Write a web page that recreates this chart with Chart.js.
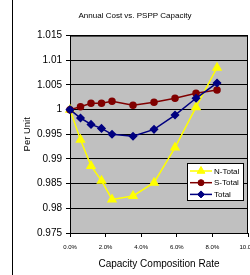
<!DOCTYPE html>
<html>
<head>
<meta charset="utf-8">
<script src="https://cdn.jsdelivr.net/npm/chart.js@4.4.0/dist/chart.umd.min.js"></script>
<style>
  html, body { margin: 0; padding: 0; background: #fff; overflow: hidden; }
  #wrap { position: relative; width: 270px; height: 275px; }
  #frame { position: absolute; left: 12px; top: 0; width: 1px; height: 275px; background: #000; }
</style>
</head>
<body>
<div id="wrap">
  <canvas id="cost-chart" width="270" height="275"></canvas>
  <div id="frame"></div>
</div>
<script>
// values
const rates = [0, 0.59, 1.18, 1.77, 2.36, 3.54, 4.72, 5.9, 7.08, 8.26];
const nTotal = [1.0, 0.9939, 0.9886, 0.9856, 0.9818, 0.9825, 0.9852, 0.9923, 1.0005, 1.0085];
const sTotal = [1.0, 1.0006, 1.0013, 1.0013, 1.0017, 1.0009, 1.0015, 1.0023, 1.0033, 1.004];
const total = [1.0, 0.9983, 0.997, 0.9962, 0.995, 0.9946, 0.996, 0.9989, 1.0023, 1.0054];
const seriesNames = ["N-Total", "S-Total", "Total"];

const yTicks = [0.975, 0.98, 0.985, 0.99, 0.995, 1, 1.005, 1.01, 1.015];
const yTickLabels = ["0.975", "0.98", "0.985", "0.99", "0.995", "1", "1.005", "1.01", "1.015"];
const xTicks = [0, 2, 4, 6, 8, 10];
const xTickLabels = ["0.0%", "2.0%", "4.0%", "6.0%", "8.0%", "10.0%"];

const FONT = '"Liberation Sans", Arial, sans-serif';

function toPoints(values) {
  return rates.map((rate, i) => ({ x: rate, y: values[i] }));
}

const plotBackground = {
  id: "plotBackground",
  beforeDraw(chart) {
    const { ctx, chartArea } = chart;
    ctx.save();
    ctx.fillStyle = "#c0c0c0";
    ctx.fillRect(chartArea.left, chartArea.top, chartArea.width, chartArea.height);
    ctx.restore();
  },
  beforeDatasetsDraw(chart) {
    const { ctx, chartArea } = chart;
    ctx.save();
    ctx.strokeStyle = "#000";
    ctx.lineWidth = 1;
    ctx.strokeRect(chartArea.left + 0.5, chartArea.top + 0.5, chartArea.width - 1, chartArea.height);
    ctx.restore();
  },
};

const boxLegend = {
  id: "boxLegend",
  afterDatasetsDraw(chart) {
    const { ctx } = chart;
    const left = 187, top = 163, width = 56, height = 37;
    ctx.save();
    ctx.fillStyle = "#fff";
    ctx.fillRect(left, top, width, height);
    ctx.strokeStyle = "#000";
    ctx.lineWidth = 1;
    ctx.strokeRect(left + 0.5, top + 0.5, width, height);
    ctx.font = "8px " + FONT;
    ctx.textBaseline = "middle";
    chart.data.datasets.forEach((ds, i) => {
      const y = top + 8 + i * 11.7;
      ctx.strokeStyle = ds.borderColor;
      ctx.lineWidth = 1.5;
      ctx.beginPath();
      ctx.moveTo(left + 3, y);
      ctx.lineTo(left + 25, y);
      ctx.stroke();
      ctx.fillStyle = ds.pointBackgroundColor;
      ctx.lineWidth = 1;
      Chart.helpers.drawPoint(ctx, { pointStyle: ds.pointStyle, radius: ds.pointRadius, rotation: 0, borderWidth: 1 }, left + 14, y);
      ctx.fillStyle = "#000";
      ctx.fillText(ds.label, left + 27, y + 0.5);
    });
    ctx.restore();
  },
};

new Chart(document.getElementById("cost-chart"), {
  type: "line",
  data: {
    datasets: [
      {
        label: seriesNames[0],
        data: toPoints(nTotal),
        borderColor: "#ffff00",
        backgroundColor: "#ffff00",
        pointBackgroundColor: "#ffff00",
        pointBorderColor: "#ffff00",
        pointStyle: "triangle",
        pointRadius: 4.5,
        borderWidth: 1.5,
        order: 2,
      },
      {
        label: seriesNames[1],
        data: toPoints(sTotal),
        borderColor: "#800000",
        backgroundColor: "#800000",
        pointBackgroundColor: "#800000",
        pointBorderColor: "#800000",
        pointStyle: "circle",
        pointRadius: 3,
        borderWidth: 1.5,
        order: 1,
      },
      {
        label: seriesNames[2],
        data: toPoints(total),
        borderColor: "#000080",
        backgroundColor: "#000080",
        pointBackgroundColor: "#000080",
        pointBorderColor: "#000080",
        pointStyle: "rectRot",
        pointRadius: 3.5,
        borderWidth: 1.5,
        order: 0,
      },
    ],
  },
  options: {
    responsive: false,
    animation: false,
    clip: false,
    layout: { padding: { left: 22, right: 22, top: 0, bottom: 0 } },
    plugins: {
      legend: { display: false },
      tooltip: { enabled: false },
      title: {
        display: true,
        text: "Annual Cost vs. PSPP Capacity",
        color: "#000",
        font: { family: FONT, size: 8, weight: "normal" },
        padding: { top: 11, bottom: 15 },
      },
    },
    scales: {
      x: {
        type: "linear",
        min: 0,
        max: 10,
        afterBuildTicks: (scale) => {
          scale.ticks = xTicks.map((v) => ({ value: v }));
        },
        afterFit: (scale) => {
          scale.height = 42;
        },
        ticks: {
          color: "#000",
          font: { family: FONT, size: 6 },
          padding: 7,
          maxRotation: 0,
          callback: (value, index) => xTickLabels[index],
        },
        grid: { drawOnChartArea: false, color: "#000", tickLength: 4 },
        border: { color: "#000" },
        title: {
          display: true,
          text: "Capacity Composition Rate",
          color: "#000",
          font: { family: FONT, size: 10 },
          padding: { top: 0, bottom: 5 },
        },
      },
      y: {
        type: "linear",
        min: 0.975,
        max: 1.015,
        afterBuildTicks: (scale) => {
          scale.ticks = yTicks.map((v) => ({ value: v }));
        },
        afterFit: (scale) => {
          scale.width = 48;
        },
        ticks: {
          color: "#000",
          font: { family: FONT, size: 10 },
          padding: 4,
          callback: (value, index) => yTickLabels[index],
        },
        grid: { color: "#000", lineWidth: 1, tickLength: 4 },
        border: { color: "#000" },
        title: {
          display: true,
          text: "Per Unit",
          color: "#000",
          font: { family: FONT, size: 9.5 },
          padding: { top: 0, bottom: 0 },
        },
      },
    },
  },
  plugins: [plotBackground, boxLegend],
});
</script>
</body>
</html>
